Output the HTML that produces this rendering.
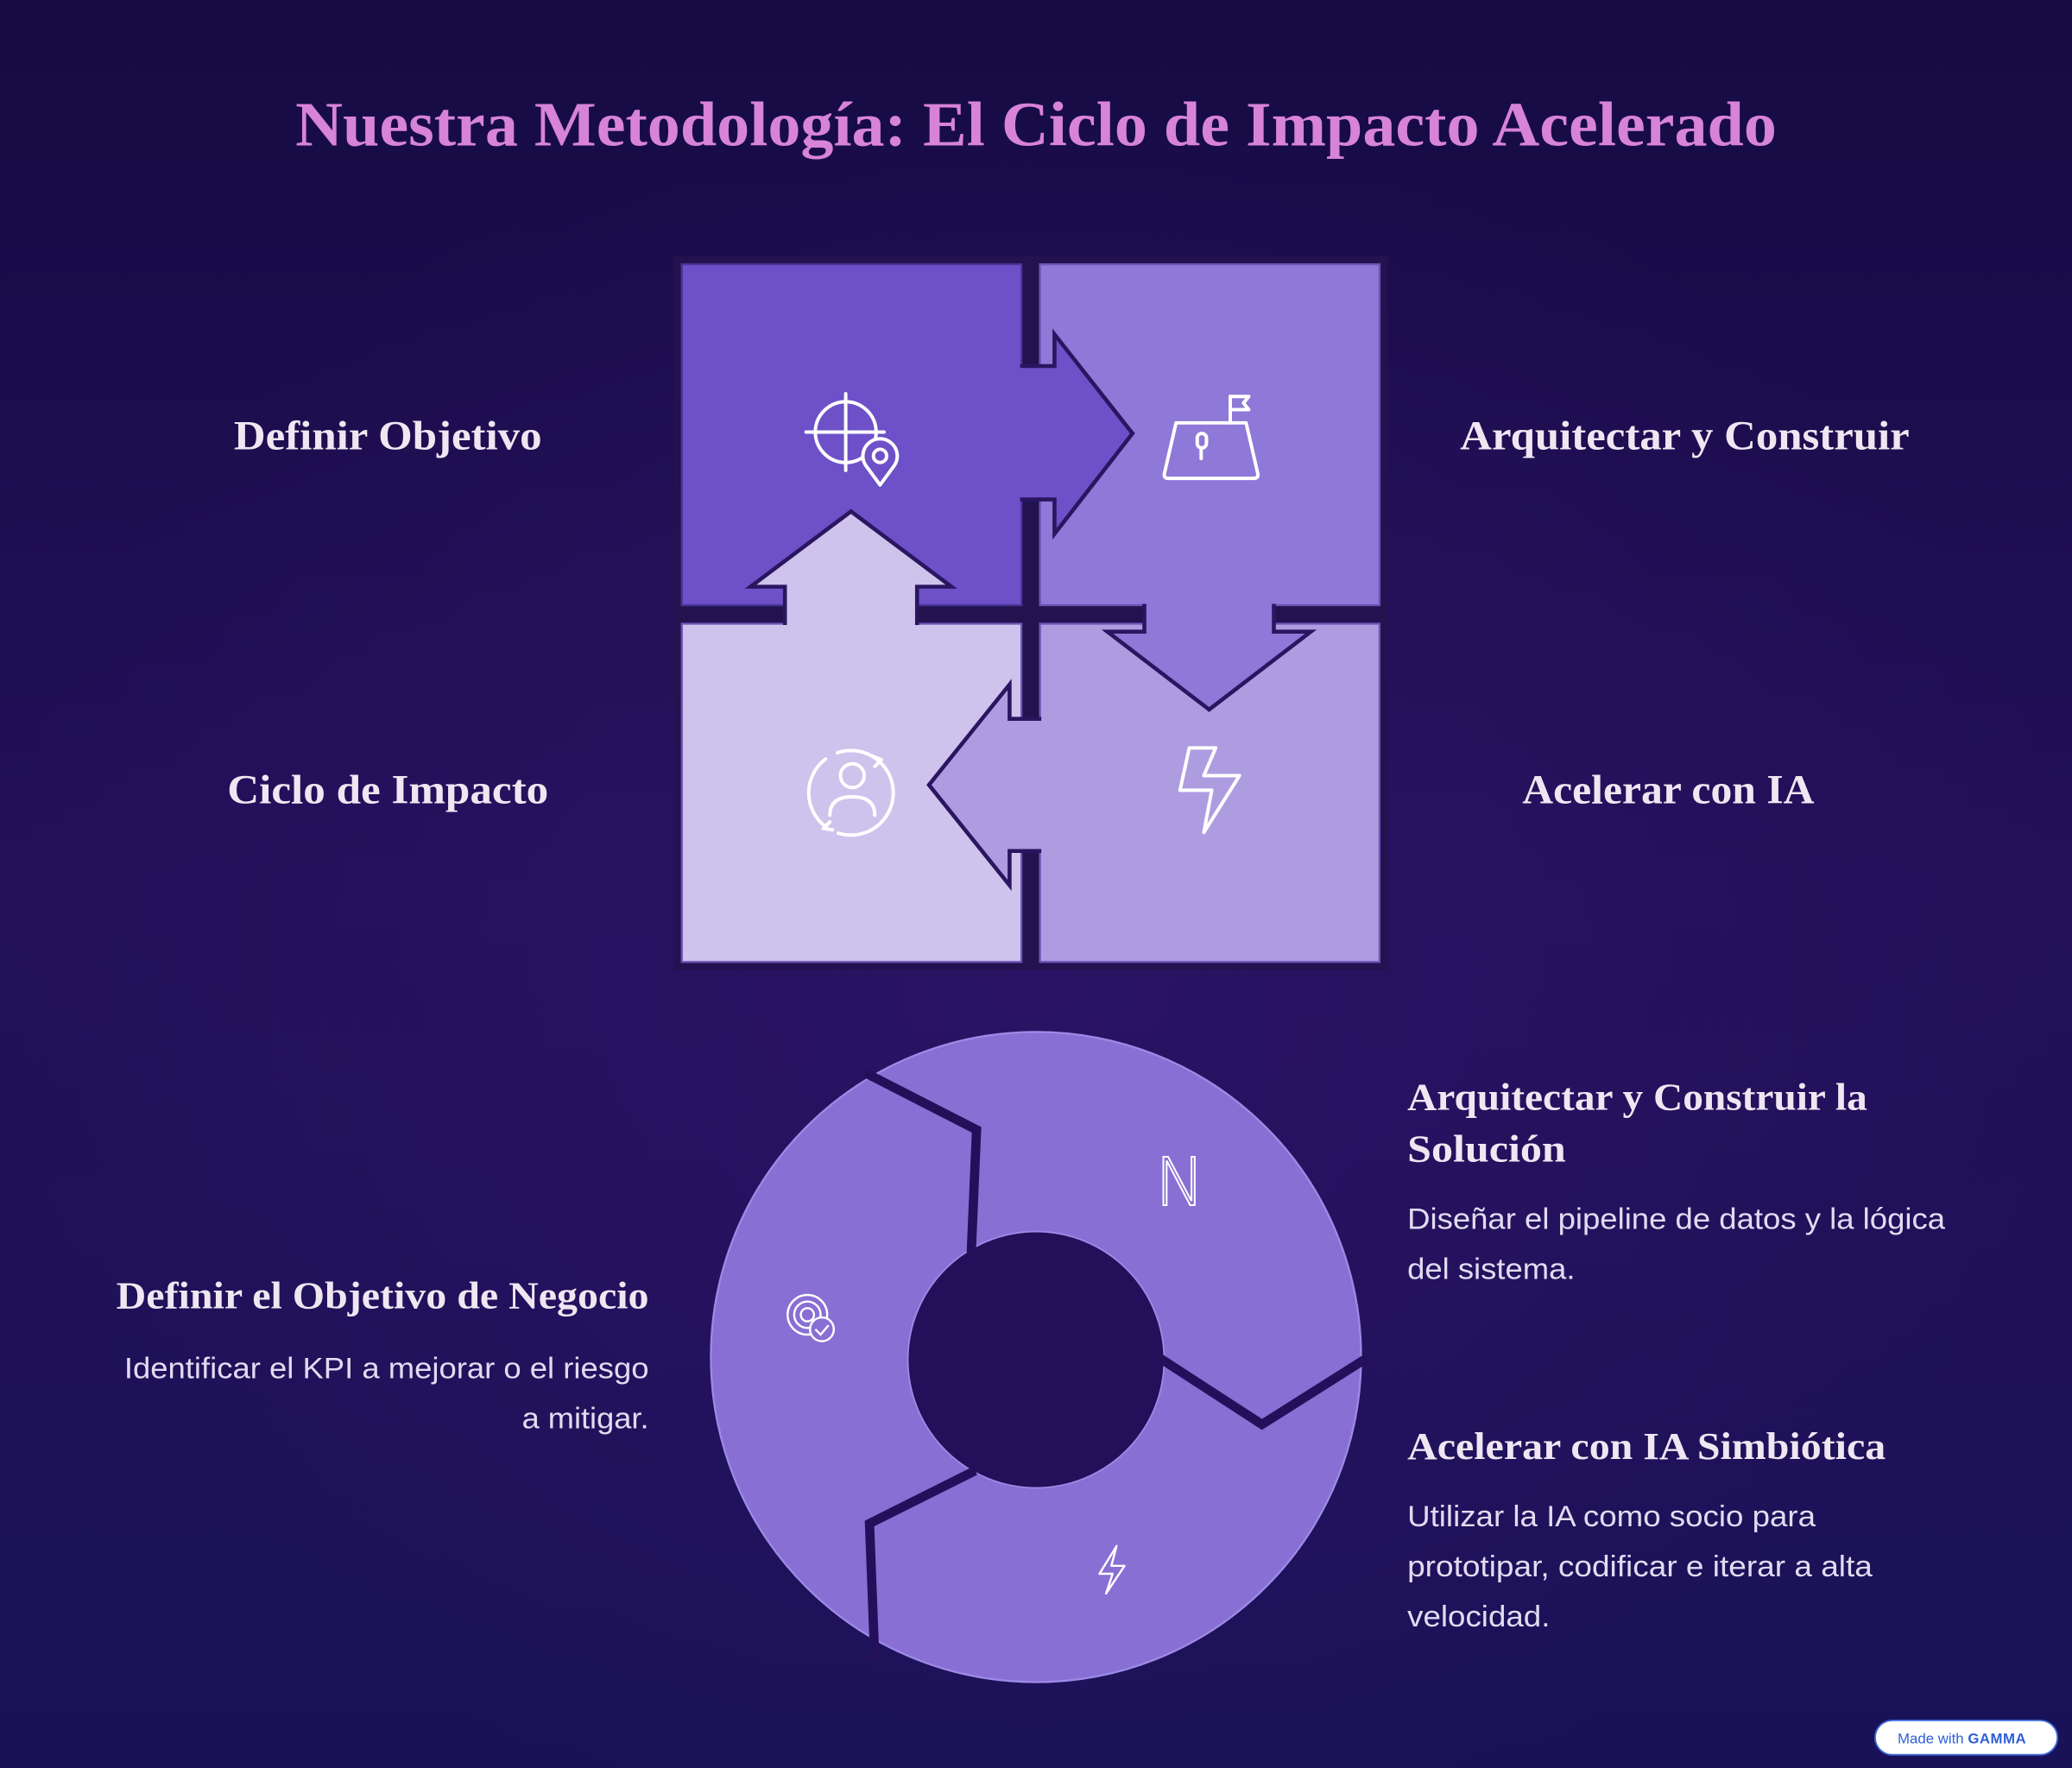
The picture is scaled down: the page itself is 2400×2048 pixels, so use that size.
<!DOCTYPE html>
<html><head><meta charset="utf-8"><style>
html,body{margin:0;padding:0;background:#170d45;}
svg{display:block}
</style></head><body>
<svg width="2400" height="2048" viewBox="0 0 1568 1338" xmlns="http://www.w3.org/2000/svg">
<defs>
<linearGradient id="bg" x1="0" y1="0" x2="0" y2="1">
<stop offset="0" stop-color="#160b43"/><stop offset="0.5" stop-color="#22105a"/><stop offset="1" stop-color="#1a1258"/>
</linearGradient>
<radialGradient id="glow" cx="0.5" cy="0.55" r="0.5">
<stop offset="0" stop-color="#2c1466" stop-opacity="0.8"/><stop offset="1" stop-color="#2c1466" stop-opacity="0"/>
</radialGradient>
</defs>
<rect width="1568" height="1338" fill="url(#bg)"/>
<rect width="1568" height="1338" fill="url(#glow)"/>

<text x="784" y="110" text-anchor="middle" textLength="1121" lengthAdjust="spacingAndGlyphs" font-family="Liberation Serif, serif" font-weight="bold" font-size="48" fill="#d783d8">Nuestra Metodología: El Ciclo de Impacto Acelerado</text>

<rect x="510" y="194" width="540" height="540" fill="#22124f"/>
<rect x="516" y="200" width="257" height="258" fill="#6e50c8" stroke="#4a3598" stroke-width="1.5"/>
<rect x="787" y="200" width="257" height="258" fill="#8e78d8" stroke="#6a55b5" stroke-width="1.5"/>
<rect x="516" y="472" width="257" height="256" fill="#cdc3ec" stroke="#6a55b5" stroke-width="1.5"/>
<rect x="787" y="472" width="257" height="256" fill="#ad9ce0" stroke="#6a55b5" stroke-width="1.5"/>

<g stroke="#2a1660" stroke-width="3" stroke-linejoin="miter">
<polygon points="772,277 798,277 798,253 857,328 798,404 798,378 772,378" fill="#6e50c8" stroke="none"/>
<polyline points="772,277 798,277 798,253 857,328 798,404 798,378 772,378" fill="none"/>
<polygon points="866,457 866,478 838,478 915,537 992,478 964,478 964,457" fill="#8e78d8" stroke="none"/>
<polyline points="866,457 866,478 838,478 915,537 992,478 964,478 964,457" fill="none"/>
<polygon points="788,544 764,544 764,518 703,594 764,670 764,644 788,644" fill="#ad9ce0" stroke="none"/>
<polyline points="788,544 764,544 764,518 703,594 764,670 764,644 788,644" fill="none"/>
<polygon points="594,473 594,444 568,444 644,387 720,444 694,444 694,473" fill="#cdc3ec" stroke="none"/>
<polyline points="594,473 594,444 568,444 644,387 720,444 694,444 694,473" fill="none"/>
</g>

<g fill="none" stroke="#fff" stroke-width="2.6" stroke-linecap="round" stroke-linejoin="round">
<circle cx="640" cy="327" r="23"/><line x1="610" y1="327" x2="669" y2="327"/><line x1="640" y1="298" x2="640" y2="356"/>
<path d="M666,367 L655,352 A13,13 0 1 1 677,352 Z" fill="#6e50c8"/><circle cx="666" cy="345" r="5"/>
<path d="M890,320 L943,320 L952,359 Q952,362 949,362 L884,362 Q881,362 881,359 Z"/>
<line x1="931" y1="320" x2="931" y2="300"/><path d="M931,300 L945,300 L941,305 L945,310 L931,310"/>
<rect x="906" y="328" width="7" height="11" rx="3.5"/><line x1="909" y1="340" x2="909" y2="347"/>
<path d="M900,566 L920,566 L911,587 L938,587 L911,630 L917,598 L893,598 Z"/>
<circle cx="644" cy="600" r="32" stroke-dasharray="60 10"/>
<circle cx="645" cy="587" r="9"/><path d="M628,617 Q628,603 645,603 Q662,603 662,617"/>
<path d="M660,572 L667,575 L662,580"/><path d="M630,628 L623,627 L628,622"/>
</g>

<g font-family="Liberation Serif, serif" font-weight="bold" fill="#efe6f2" font-size="31" lengthAdjust="spacingAndGlyphs">
<text x="177" y="340" textLength="233" lengthAdjust="spacingAndGlyphs">Definir Objetivo</text>
<text x="1105" y="340" textLength="340" lengthAdjust="spacingAndGlyphs">Arquitectar y Construir</text>
<text x="172" y="608" textLength="243" lengthAdjust="spacingAndGlyphs">Ciclo de Impacto</text>
<text x="1152" y="608" textLength="221" lengthAdjust="spacingAndGlyphs">Acelerar con IA</text>
</g>

<circle cx="784" cy="1027" r="246" fill="#876fd4" stroke="#9d8ae6" stroke-width="1.5"/>
<circle cx="784" cy="1029" r="97" fill="#24105a" stroke="#9d8ae6" stroke-width="1.2"/>
<g fill="none" stroke="#24105a" stroke-width="7" stroke-linejoin="miter">
<polyline points="655,812 739,855 735,948"/>
<polyline points="878,1028 955,1078 1034,1028"/>
<polyline points="738,1113 658,1153 662,1256"/>
</g>
<text x="893" y="912" text-anchor="middle" font-family="DejaVu Sans, sans-serif" font-weight="200" font-size="50" fill="none" stroke="#fff" stroke-width="1.3">N</text>
<g fill="none" stroke="#fff" stroke-width="1.6">
<circle cx="611" cy="995" r="15"/><circle cx="611" cy="995" r="10"/><circle cx="611" cy="995" r="5"/>
<circle cx="622" cy="1006" r="9" fill="#876fd4"/><polyline points="617,1006 621,1010 627,1003"/>
<path d="M845,1170 L832,1191 L842,1191 L837,1206 L851,1185 L841,1185 Z" stroke-linejoin="round"/>
</g>

<g font-family="Liberation Serif, serif" font-weight="bold" fill="#efe6f2" font-size="29">
<text x="1065" y="840" textLength="348" lengthAdjust="spacingAndGlyphs">Arquitectar y Construir la</text>
<text x="1065" y="879" textLength="120" lengthAdjust="spacingAndGlyphs">Solución</text>
<text x="88" y="990" textLength="403" lengthAdjust="spacingAndGlyphs">Definir el Objetivo de Negocio</text>
<text x="1065" y="1104" textLength="362" lengthAdjust="spacingAndGlyphs">Acelerar con IA Simbiótica</text>
</g>
<g font-family="Liberation Sans, sans-serif" fill="#e2dbf2" font-size="22.5">
<text x="1065" y="930" textLength="407" lengthAdjust="spacingAndGlyphs">Diseñar el pipeline de datos y la lógica</text>
<text x="1065" y="968" textLength="127" lengthAdjust="spacingAndGlyphs">del sistema.</text>
<text x="94" y="1043" textLength="397" lengthAdjust="spacingAndGlyphs">Identificar el KPI a mejorar o el riesgo</text>
<text x="395" y="1081" textLength="96" lengthAdjust="spacingAndGlyphs">a mitigar.</text>
<text x="1065" y="1155" textLength="309" lengthAdjust="spacingAndGlyphs">Utilizar la IA como socio para</text>
<text x="1065" y="1193" textLength="352" lengthAdjust="spacingAndGlyphs">prototipar, codificar e iterar a alta</text>
<text x="1065" y="1231" textLength="108" lengthAdjust="spacingAndGlyphs">velocidad.</text>
</g>

<rect x="1419" y="1302" width="138" height="26" rx="13" fill="#fff" stroke="#3b6ad8" stroke-width="1.2"/>
<text x="1436" y="1319.5" font-family="Liberation Sans, sans-serif" font-size="11" fill="#2d5fd6">Made with <tspan font-weight="bold" letter-spacing="0.3">GAMMA</tspan></text>
</svg>
</body></html>
